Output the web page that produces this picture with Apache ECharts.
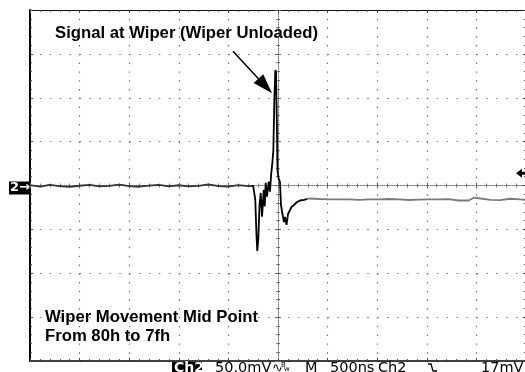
<!DOCTYPE html>
<html><head><meta charset="utf-8">
<script src="https://cdn.jsdelivr.net/npm/echarts@6/dist/echarts.min.js"></script>
<style>html,body{margin:0;padding:0;background:#fff;overflow:hidden}#c{width:525px;height:372px}</style>
</head><body><div id="c"></div>
<script>
// ---- data (time in ns, Ch2 in mV) ----
const timeRange = [-2500, 2500];   // 500 ns/div, 10 div
const timeDiv = 500;
const voltRange = [-200, 200];     // 50 mV/div, 8 div
const voltDiv = 50;
const timeNs = [-2500,-2400,-2300,-2200,-2100,-2000,-1900,-1800,-1700,-1600,-1500,-1400,-1300,-1200,-1100,-1000,-900,-800,-700,-600,-500,-400,-300,-250,
  -229,-217,-209,-199,-186,-174,-161,-144,-134,-124,-111,-94,-81,-68,-57,-47,-37,-27,-20,-12,-5,5,20,30,45,60,71,86,101,121,136,161,192,222,262,
  320,420,520,620,720,820,920,1020,1120,1220,1320,1420,1520,1620,1720,1820,1920,1980,2040,2140,2240,2340,2440,2500];
const ch2mV = [0.5,-1.2,0.8,-0.6,-1.5,-0.3,0.6,-1.0,-0.4,0.9,-0.8,-1.4,-0.2,0.7,-0.9,0.3,-1.1,-0.5,1.2,-0.7,-1.3,0.4,-0.6,-0.5,
  -16.5,-56,-74.6,-62,-22,-8.5,-35.5,-5,-24,3,-12.8,4.3,-7,14.2,25.6,40,97,131.5,129,74.6,17.7,8.5,4,-22,-32.5,-41.6,-35.9,-44.9,-32.5,-34.7,-24.5,-22.2,-18.8,-17.1,-16.5,
  -14.8,-15.4,-15.9,-15.7,-15.9,-16.3,-15.7,-15.9,-15.4,-15.9,-16.5,-16.1,-15.7,-15.9,-15.6,-17.1,-17.1,-13.7,-14.8,-16.3,-16.7,-15.1,-15.9,-16.3];
const titleText = 'Signal at Wiper (Wiper Unloaded)';
const noteLines = ['Wiper Movement Mid Point', 'From 80h to 7fh'];
const statusTexts = ['Ch2', '50.0mV', 'M', '500ns', 'Ch2', '17mV'];
const channelLabel = '2\u2192';
const triggerLevelMarkMv = 14;
const arrowFrom = [-454, 153];
const arrowTo = [-60, 105];

// ---- chart ----
const chart = echarts.init(document.getElementById('c'), null, {renderer: 'canvas'});
const dotColor = '#6a6a6a';
function xAx(extra) {
  return Object.assign({type: 'value', min: timeRange[0], max: timeRange[1], interval: timeDiv,
    axisLabel: {show: false}, splitLine: {show: false}}, extra);
}
function yAx(extra) {
  return Object.assign({type: 'value', min: voltRange[0], max: voltRange[1], interval: voltDiv,
    axisLabel: {show: false}, splitLine: {show: false}}, extra);
}
const tickS = {show: true, inside: true, length: 3, lineStyle: {color: '#444', width: 1}};
const minorS = {show: true, splitNumber: 5, length: 2, lineStyle: {color: '#555', width: 1}};
const centerTick = (inside) => ({show: true, inside: inside, length: 3, lineStyle: {color: '#666', width: 1}});
const centerMinor = {show: true, splitNumber: 5, length: 2, lineStyle: {color: '#777', width: 1}};

chart.setOption({
  animation: false,
  backgroundColor: '#fff',
  grid: {left: 30, top: 10, width: 496, height: 351, containLabel: false, outerBoundsMode: 'none'},
  xAxis: [
    xAx({position: 'bottom', axisLine: {onZero: false, lineStyle: {color: '#000', width: 1.5}},
      axisTick: tickS, minorTick: minorS,
      splitLine: {show: true, lineStyle: {color: dotColor, width: 1.2, type: [1.4, 7.375]}}}),
    xAx({position: 'top', axisLine: {onZero: false, lineStyle: {color: '#111', width: 1.2}},
      axisTick: tickS, minorTick: minorS}),
    xAx({position: 'bottom', axisLine: {onZero: true, onZeroAxisIndex: 0, lineStyle: {color: '#777', width: 1, type: [1, 1]}},
      axisTick: centerTick(true), minorTick: centerMinor}),
    xAx({position: 'bottom', axisLine: {onZero: true, onZeroAxisIndex: 0, lineStyle: {opacity: 0}},
      axisTick: centerTick(false), minorTick: centerMinor})
  ],
  yAxis: [
    yAx({position: 'left', axisLine: {onZero: false, lineStyle: {color: '#000', width: 2}},
      axisTick: tickS, minorTick: minorS,
      splitLine: {show: true, lineStyle: {color: dotColor, width: 1.2, type: [1.4, 8.52]}}}),
    yAx({position: 'right', axisLine: {onZero: false, lineStyle: {color: '#555', width: 1}},
      axisTick: tickS, minorTick: minorS}),
    yAx({position: 'left', axisLine: {onZero: true, onZeroAxisIndex: 0, lineStyle: {color: '#777', width: 1, type: [1, 1]}},
      axisTick: centerTick(true), minorTick: centerMinor}),
    yAx({position: 'left', axisLine: {onZero: true, onZeroAxisIndex: 0, lineStyle: {opacity: 0}},
      axisTick: centerTick(false), minorTick: centerMinor})
  ],
  visualMap: {show: false, type: 'piecewise', dimension: 0, seriesIndex: 0,
    pieces: [{lt: -260, color: '#333'}, {gte: -260, lt: 290, color: '#000'}, {gte: 290, color: '#7a7a7a'}]},
  series: [{
    type: 'line', xAxisIndex: 0, yAxisIndex: 0, showSymbol: false, z: 5,
    data: timeNs.map((t, i) => [t, ch2mV[i]]),
    lineStyle: {width: 1.8}
  }]
});

const px = (p) => chart.convertToPixel({xAxisIndex: 0, yAxisIndex: 0}, p);
const gy = px([0, 0])[1];
const a0 = px(arrowFrom), a1 = px(arrowTo);
const dx = a1[0] - a0[0], dy = a1[1] - a0[1], L = Math.hypot(dx, dy);
const ux = dx / L, uy = dy / L, hl = 20, hw = 6.5;
const bx = a1[0] - ux * hl, by = a1[1] - uy * hl;
const trigY = px([0, triggerLevelMarkMv])[1];
const boldFont = 'bold 16.7px "Liberation Sans", Arial, sans-serif';
const statFont = '14.5px "DejaVu Sans", sans-serif';
const sy = 361;

chart.setOption({graphic: [
  {type: 'text', x: 55, y: 33.5, z: 10, style: {text: titleText, font: boldFont, fill: '#000', verticalAlign: 'middle'}},
  {type: 'text', x: 45, y: 317, z: 10, style: {text: noteLines[0], font: boldFont, fill: '#000', verticalAlign: 'middle'}},
  {type: 'text', x: 45, y: 336, z: 10, style: {text: noteLines[1], font: boldFont, fill: '#000', verticalAlign: 'middle'}},
  {type: 'line', z: 10, shape: {x1: a0[0], y1: a0[1], x2: bx, y2: by}, style: {stroke: '#000', lineWidth: 1.5}},
  {type: 'polygon', z: 10, shape: {points: [[a1[0], a1[1]], [bx - uy * hw, by + ux * hw], [bx + uy * hw, by - ux * hw]]}, style: {fill: '#000'}},
  {type: 'rect', z: 10, shape: {x: 9, y: gy - 4, width: 20, height: 13}, style: {fill: '#000'}},
  {type: 'text', x: 10, y: gy + 2.5, z: 11, style: {text: channelLabel, font: 'bold 13px "DejaVu Sans", sans-serif', fill: '#fff', verticalAlign: 'middle'}},
  {type: 'polygon', z: 10, shape: {points: [[516, trigY], [522, trigY - 4.5], [522, trigY - 1.5], [526, trigY - 1.5], [526, trigY + 1.5], [522, trigY + 1.5], [522, trigY + 4.5]]}, style: {fill: '#000'}},
  {type: 'rect', z: 10, shape: {x: 172, y: 362, width: 30, height: 12}, style: {fill: '#000'}},
  {type: 'text', x: 174, y: sy, z: 11, style: {text: statusTexts[0], font: 'bold 14px "DejaVu Sans", sans-serif', fill: '#fff'}},
  {type: 'text', x: 215, y: sy, z: 10, style: {text: statusTexts[1], font: statFont, fill: '#000'}},
  {type: 'text', x: 272, y: sy + 1, z: 10, style: {text: '\u223F', font: '13px "DejaVu Sans", sans-serif', fill: '#000'}},
  {type: 'text', x: 281, y: sy + 1, z: 10, style: {text: 'B', font: '7px "DejaVu Sans", sans-serif', fill: '#000'}},
  {type: 'text', x: 284, y: sy + 5, z: 10, style: {text: 'w', font: '7px "DejaVu Sans", sans-serif', fill: '#000'}},
  {type: 'text', x: 305, y: sy, z: 10, style: {text: statusTexts[2], font: statFont, fill: '#000'}},
  {type: 'text', x: 330, y: sy, z: 10, style: {text: statusTexts[3], font: statFont, fill: '#000'}},
  {type: 'text', x: 378, y: sy, z: 10, style: {text: statusTexts[4], font: statFont, fill: '#000'}},
  {type: 'polyline', z: 10, shape: {points: [[428, 364], [431, 364], [433, 371], [437, 371]]}, style: {stroke: '#000', lineWidth: 1.3, fill: null}},
  {type: 'text', x: 481, y: sy, z: 10, style: {text: statusTexts[5], font: statFont, fill: '#000'}}
]});
</script>
</body></html>
